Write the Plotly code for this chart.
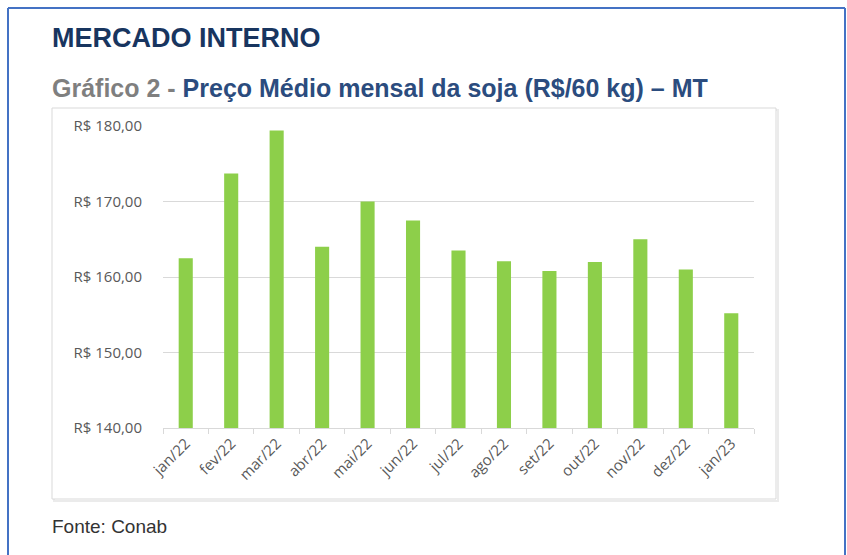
import plotly.graph_objects as go

months = ["jan/22", "fev/22", "mar/22", "abr/22", "mai/22", "jun/22", "jul/22",
          "ago/22", "set/22", "out/22", "nov/22", "dez/22", "jan/23"]
prices = [162.5, 173.7, 179.4, 164.0, 170.0, 167.5, 163.5,
          162.1, 160.8, 162.0, 165.0, 161.0, 155.2]
y_ticks = [140, 150, 160, 170, 180]
y_tick_labels = ["R$ 140,00", "R$ 150,00", "R$ 160,00", "R$ 170,00", "R$ 180,00"]

W, H = 847, 555
L, R, T, B = 163, 93, 126, 127
PW, PH = W - L - R, H - T - B


def px(x):
    return (x - L) / PW


def py(y):
    return (H - B - y) / PH


fig = go.Figure()
fig.add_trace(go.Bar(x=months, y=prices, marker=dict(color="#8DCF4A", line=dict(width=0)),
                     hoverinfo="x+y"))

shapes = [
    # chart box shadow and box
    dict(type="rect", xref="paper", yref="paper", x0=px(54), x1=px(778), y0=py(110), y1=py(501),
         line=dict(color="#EBEBEB", width=2), fillcolor="rgba(0,0,0,0)", layer="below"),
    dict(type="rect", xref="paper", yref="paper", x0=px(52), x1=px(776), y0=py(108), y1=py(499),
         line=dict(color="#D9D9D9", width=1), fillcolor="white", layer="below"),
    # outer blue frame
    dict(type="line", xref="paper", yref="paper", x0=px(8), x1=px(8), y0=py(8), y1=py(560),
         line=dict(color="#4472C4", width=2)),
    dict(type="line", xref="paper", yref="paper", x0=px(8), x1=px(845), y0=py(8), y1=py(8),
         line=dict(color="#4472C4", width=2)),
    dict(type="line", xref="paper", yref="paper", x0=px(845), x1=px(845), y0=py(8), y1=py(560),
         line=dict(color="#4472C4", width=2)),
]

annotations = [
    dict(text="<b>MERCADO INTERNO</b>", xref="paper", yref="paper", x=px(50), y=py(38),
         xanchor="left", yanchor="middle", showarrow=False,
         font=dict(family="Liberation Sans, Arial, sans-serif", size=27, color="#18355F")),
    dict(text="<b><span style='color:#7F7F7F;font-size:25px'>Gráfico 2 - </span></b>"
              "<b>Preço Médio mensal da soja (R$/60 kg) – MT</b>",
         xref="paper", yref="paper", x=px(50), y=py(88),
         xanchor="left", yanchor="middle", showarrow=False,
         font=dict(family="Liberation Sans, Arial, sans-serif", size=25, color="#2B4C7E")),
    dict(text="Fonte: Conab", xref="paper", yref="paper", x=px(50), y=py(526),
         xanchor="left", yanchor="middle", showarrow=False,
         font=dict(family="Liberation Sans, Arial, sans-serif", size=19, color="#333333")),
]

fig.update_layout(
    width=W, height=H,
    margin=dict(l=L, r=R, t=T, b=B, pad=0),
    paper_bgcolor="white", plot_bgcolor="rgba(0,0,0,0)",
    bargap=0.69,
    showlegend=False,
    shapes=shapes,
    annotations=annotations,
    font=dict(family="Open Sans, sans-serif", color="#595959"),
    xaxis=dict(
        type="category",
        tickangle=-45,
        tickfont=dict(family="Open Sans, sans-serif", size=15, color="#595959"),
        showline=True, linecolor="#D9D9D9", linewidth=1,
        ticks="outside", ticklen=5, tickcolor="#D9D9D9", tickson="boundaries",
        showgrid=False, zeroline=False,
    ),
    yaxis=dict(
        range=[140, 180],
        tickvals=y_ticks, ticktext=y_tick_labels,
        tickfont=dict(family="Open Sans, sans-serif", size=15, color="#595959"),
        showgrid=True, gridcolor="#D9D9D9", gridwidth=1,
        zeroline=False, showline=False, ticks="", ticklabelstandoff=20,
    ),
)

fig.write_html("out.html", config={"displayModeBar": False},
               post_script="document.body.style.margin='0';document.body.style.overflow='hidden';")
